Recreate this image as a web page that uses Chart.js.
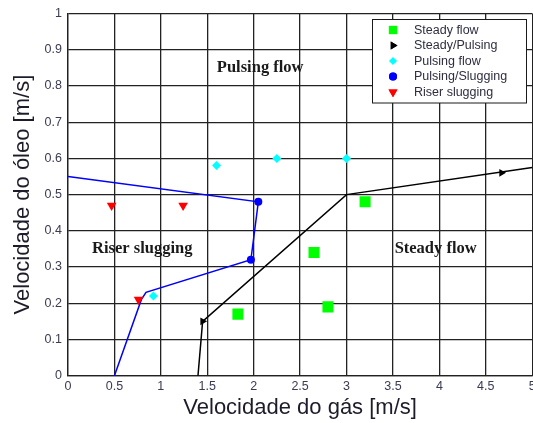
<!DOCTYPE html>
<html>
<head>
    <title>Velocidade do óleo x gás</title>
    <script src="https://cdn.jsdelivr.net/npm/chart.js@4.4.1/dist/chart.umd.min.js"></script>
    <style>
        html, body { margin: 0; background: white; overflow: hidden; width: 533px; height: 423px; }
    </style>
</head>
<body>
    <!-- canvas a little wider than the window so the plot runs to the right edge -->
    <canvas id="flowChart" width="540" height="423"></canvas>

    <script>
        // Measured points (gas velocity x, oil velocity y)
        const steadyX = [1.83, 2.65, 2.8, 3.2];
        const steadyY = [0.17, 0.34, 0.19, 0.48];
        const steadyPulsingX = [1.45, 4.67];
        const steadyPulsingY = [0.15, 0.56];
        const pulsingX = [0.92, 1.6, 2.25, 3.0];
        const pulsingY = [0.22, 0.58, 0.60, 0.60];
        const pulsingSluggingX = [1.97, 2.05];
        const pulsingSluggingY = [0.32, 0.48];
        const riserX = [0.47, 0.76, 1.24];
        const riserY = [0.47, 0.21, 0.47];

        // Boundary lines
        const blueLineX = [0, 2.05, 1.97, 0.84, 0.79, 0.5];
        const blueLineY = [0.55, 0.48, 0.32, 0.23, 0.21, 0];
        const blackLineX = [1.4, 1.45, 3.0, 5.0];
        const blackLineY = [0, 0.15, 0.5, 0.575];

        // Axis ticks
        const xTicks = [0, 0.5, 1, 1.5, 2, 2.5, 3, 3.5, 4, 4.5, 5];
        const yTicks = [0, 0.1, 0.2, 0.3, 0.4, 0.5, 0.6, 0.7, 0.8, 0.9, 1];

        // Region labels
        const regionNames = ["Pulsing flow", "Riser slugging", "Steady flow"];
        const regionX = [2.07, 0.8, 3.96];
        const regionY = [0.849, 0.351, 0.351];

        const legendNames = ["Steady flow", "Steady/Pulsing", "Pulsing flow", "Pulsing/Slugging", "Riser slugging"];

        function pts(xs, ys) {
            return xs.map((x, i) => ({ x: x, y: ys[i] }));
        }

        const markerSets = [
            { label: legendNames[0], data: pts(steadyX, steadyY), pointStyle: "rect", pointRadius: 7.8, pointRotation: 0, backgroundColor: "#00ff00", borderColor: "#00ff00" },
            { label: legendNames[1], data: pts(steadyPulsingX, steadyPulsingY), pointStyle: "triangle", pointRadius: 4.5, pointRotation: 90, backgroundColor: "#000000", borderColor: "#000000" },
            { label: legendNames[2], data: pts(pulsingX, pulsingY), pointStyle: "rectRot", pointRadius: 4.5, pointRotation: 0, backgroundColor: "#00ffff", borderColor: "#00ffff" },
            { label: legendNames[3], data: pts(pulsingSluggingX, pulsingSluggingY), pointStyle: "circle", pointRadius: 4, pointRotation: 0, backgroundColor: "#0000ff", borderColor: "#0000ff" },
            { label: legendNames[4], data: pts(riserX, riserY), pointStyle: "triangle", pointRadius: 5.6, pointRotation: 180, backgroundColor: "#ff0000", borderColor: "#ff0000" }
        ];
        markerSets.forEach(d => { d.showLine = false; d.borderWidth = 0; });

        const lineSets = [
            { label: "blue", data: pts(blueLineX, blueLineY), borderColor: "#0000ff" },
            { label: "black", data: pts(blackLineX, blackLineY), borderColor: "#000000" }
        ];
        lineSets.forEach(d => { d.showLine = true; d.pointRadius = 0; d.borderWidth = 1.5; d.fill = false; });

        // Region texts and the boxed legend
        const overlayPlugin = {
            id: "overlay",
            afterDatasetsDraw(chart) {
                const ctx = chart.ctx;
                const xs = chart.scales.x, ys = chart.scales.y;
                ctx.save();
                ctx.fillStyle = "#1a1a1a";
                ctx.font = "bold 16.5px 'Liberation Serif', 'Times New Roman', serif";
                ctx.textAlign = "center";
                ctx.textBaseline = "middle";
                regionNames.forEach((t, i) => {
                    ctx.fillText(t, xs.getPixelForValue(regionX[i]), ys.getPixelForValue(regionY[i]));
                });

                // legend box
                const bx = 372.5, by = 19.5, bw = 154, bh = 83.5;
                ctx.fillStyle = "#ffffff";
                ctx.fillRect(bx, by, bw, bh);
                ctx.strokeStyle = "#1a1a1a";
                ctx.lineWidth = 1;
                ctx.strokeRect(bx, by, bw, bh);
                ctx.font = "12.5px 'Liberation Sans', Arial, sans-serif";
                ctx.textAlign = "left";
                markerSets.forEach((d, i) => {
                    const y = 30 + i * 15.5;
                    ctx.fillStyle = d.backgroundColor;
                    ctx.strokeStyle = d.borderColor;
                    let r = d.pointRadius;
                    if (d.pointStyle === "rect") r = 5.8;
                    if (d.pointStyle === "rectRot") r = 3.8;
                    if (d.pointRotation === 180) r = 5.2;
                    Chart.helpers.drawPoint(ctx, { pointStyle: d.pointStyle, radius: r, rotation: d.pointRotation, borderWidth: 0 }, 393, y);
                    ctx.fill();
                    ctx.fillStyle = "#2e2e40";
                    ctx.fillText(d.label, 414, y + 0.5);
                });
                ctx.restore();
            }
        };

        const ctx = document.getElementById("flowChart").getContext("2d");
        const chart = new Chart(ctx, {
            type: "scatter",
            data: { datasets: markerSets.concat(lineSets) },
            options: {
                responsive: false,
                animation: false,
                layout: { padding: { top: 13.5, right: 0, bottom: 0, left: 0 } },
                plugins: {
                    legend: { display: false },
                    tooltip: { enabled: false }
                },
                scales: {
                    x: {
                        type: "linear",
                        min: 0,
                        max: 5,
                        afterBuildTicks: s => { s.ticks = xTicks.map(v => ({ value: v })); },
                        afterFit: s => { s.height = 47.3; },
                        ticks: {
                            padding: 3,
                            color: "#3b3b52",
                            font: { family: "'Liberation Sans', Arial, sans-serif", size: 12.5 },
                            callback: v => String(v)
                        },
                        grid: { color: "#222222", lineWidth: 1.3, drawTicks: false },
                        border: { color: "#222222", width: 1.3 },
                        title: {
                            display: true,
                            text: "Velocidade do gás [m/s]",
                            color: "#1c1c2a",
                            font: { family: "'Liberation Sans', Arial, sans-serif", size: 22 },
                            padding: { top: 0, bottom: 2 }
                        }
                    },
                    y: {
                        type: "linear",
                        min: 0,
                        max: 1,
                        afterBuildTicks: s => { s.ticks = yTicks.map(v => ({ value: v })); },
                        afterFit: s => { s.width = 68; s.paddingTop = 0; s.paddingBottom = 0; },
                        ticks: {
                            padding: 6,
                            color: "#3b3b52",
                            font: { family: "'Liberation Sans', Arial, sans-serif", size: 12.5 },
                            callback: v => String(v)
                        },
                        grid: { color: "#222222", lineWidth: 1.3, drawTicks: false },
                        border: { color: "#222222", width: 1.3 },
                        title: {
                            display: true,
                            text: "Velocidade do óleo [m/s]",
                            color: "#1c1c2a",
                            font: { family: "'Liberation Sans', Arial, sans-serif", size: 22 },
                            padding: { top: 10, bottom: 0 }
                        }
                    }
                }
            },
            plugins: [overlayPlugin]
        });
    </script>
</body>
</html>
